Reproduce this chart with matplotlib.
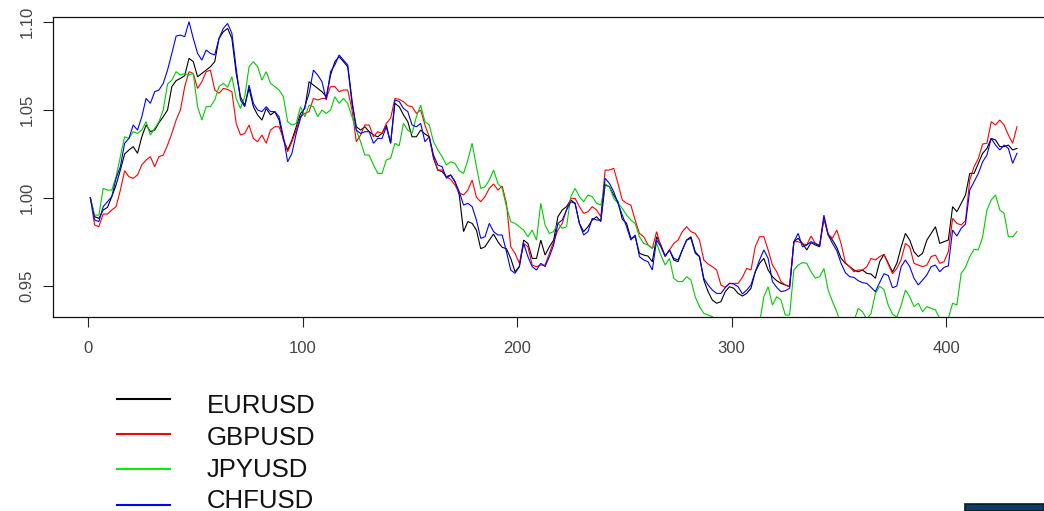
import matplotlib
matplotlib.use("Agg")
import matplotlib.pyplot as plt
from matplotlib.lines import Line2D
from matplotlib.patches import Rectangle

# trading-day index: odd days 1, 5, 9, ... and 3, 7, 11, ...
day_a = list(range(1, 434, 4))
day_b = list(range(3, 432, 4))

eurusd_a = [
    1.0002, 0.9884, 0.9947, 1.0074, 1.0250, 1.0292, 1.0348, 1.0377, 1.0428, 1.0500,
    1.0667, 1.0695, 1.0775, 1.0708, 1.0746, 1.0907, 1.0964,
    1.0708, 1.0528, 1.0519, 1.0443, 1.0472, 1.0443, 1.0273, 1.0405, 1.0509, 1.0642,
    1.0604, 1.0699, 1.0803, 1.0746, 1.0405, 1.0405, 1.0358, 1.0367, 1.0311,
    1.0519,
    1.0434, 1.0348, 1.0364, 1.0225, 1.0150, 1.0131, 1.0017, 0.9866, 0.9818, 0.9723,
    0.9795, 0.9720, 0.9657, 0.9610, 0.9742, 0.9657, 0.9676, 0.9761,
    0.9932,
    0.9989, 0.9856, 0.9837, 0.9894, 1.0074, 1.0017, 0.9879, 0.9771, 0.9686, 0.9670,
    0.9780, 0.9670, 0.9648, 0.9705, 0.9780, 0.9667, 0.9468, 0.9402, 0.9468,
    0.9487,
    0.9443, 0.9487, 0.9629, 0.9591, 0.9530, 0.9506, 0.9752, 0.9742, 0.9746, 0.9723,
    0.9790, 0.9720, 0.9629, 0.9591, 0.9591, 0.9568,
    0.9638,
    0.9629, 0.9629, 0.9799, 0.9695, 0.9686, 0.9799, 0.9742, 0.9761, 0.9922, 1.0017,
    1.0140, 1.0254, 1.0339, 1.0292, 1.0301, 1.0282,
]
eurusd_b = [
    0.9894, 0.9932, 1.0008, 1.0159, 1.0273, 1.0254, 1.0415, 1.0386, 1.0462, 1.0633,
    1.0680, 1.0794, 1.0689, 1.0727, 1.0775, 1.0945,
    1.0907, 1.0576, 1.0623, 1.0472, 1.0509, 1.0491, 1.0330, 1.0330, 1.0481, 1.0661,
    1.0623, 1.0576, 1.0775, 1.0775, 1.0538, 1.0386, 1.0377, 1.0348, 1.0415, 1.0538,
    1.0472, 1.0348, 1.0386, 1.0348, 1.0159, 1.0121, 1.0093, 0.9809, 0.9856, 0.9712,
    0.9761, 0.9752, 0.9712, 0.9581, 0.9761, 0.9657, 0.9761, 0.9723, 0.9894,
    0.9951, 0.9970, 0.9809, 0.9875, 0.9866, 1.0064, 0.9979, 0.9856, 0.9780, 0.9676,
    0.9638, 0.9733, 0.9705, 0.9638, 0.9761, 0.9695, 0.9534, 0.9420, 0.9411, 0.9496,
    0.9458, 0.9458, 0.9581, 0.9657, 0.9553, 0.9515, 0.9496, 0.9771, 0.9705, 0.9733,
    0.9884, 0.9761, 0.9657, 0.9610, 0.9581, 0.9572, 0.9544, 0.9680, 0.9580, 0.9720,
    0.9761, 0.9667, 0.9761, 0.9837, 0.9752, 0.9951, 0.9970, 1.0140, 1.0197, 1.0282,
    1.0330, 1.0292, 1.0273,
]

gbpusd_a = [
    1.0002, 0.9837, 0.9909, 0.9951, 1.0155, 1.0112, 1.0188, 1.0235, 1.0235, 1.0301,
    1.0443, 1.0633, 1.0708, 1.0661, 1.0727, 1.0595, 1.0617,
    1.0424, 1.0367, 1.0339, 1.0358, 1.0386, 1.0405, 1.0263, 1.0386, 1.0481, 1.0566,
    1.0566, 1.0633, 1.0604, 1.0614, 1.0320, 1.0415, 1.0348, 1.0367, 1.0453,
    1.0561,
    1.0525, 1.0481, 1.0415, 1.0235, 1.0159, 1.0106, 1.0030, 1.0045, 1.0004, 1.0008,
    1.0080, 1.0068, 0.9723, 0.9629, 0.9723, 0.9610, 0.9619, 0.9752,
    0.9856,
    0.9998, 0.9951, 0.9922, 0.9932, 1.0159, 1.0169, 0.9989, 0.9960, 0.9799, 0.9733,
    0.9809, 0.9667, 0.9742, 0.9809, 0.9809, 0.9761, 0.9625, 0.9591, 0.9492,
    0.9515,
    0.9549, 0.9591, 0.9780, 0.9705, 0.9581, 0.9506, 0.9752, 0.9742, 0.9784, 0.9733,
    0.9795, 0.9818, 0.9633, 0.9581, 0.9591, 0.9657,
    0.9667,
    0.9624, 0.9600, 0.9742, 0.9629, 0.9610, 0.9667, 0.9629, 0.9695, 0.9856, 0.9871,
    1.0178, 1.0307, 1.0434, 1.0443, 1.0358, 1.0405,
]
gbpusd_b = [
    0.9847, 0.9909, 0.9932, 1.0045, 1.0121, 1.0131, 1.0216, 1.0178, 1.0244, 1.0367,
    1.0500, 1.0718, 1.0623, 1.0718, 1.0614, 1.0623,
    1.0604, 1.0358, 1.0415, 1.0320, 1.0311, 1.0405, 1.0339, 1.0320, 1.0462, 1.0491,
    1.0557, 1.0566, 1.0633, 1.0614, 1.0500, 1.0358, 1.0415, 1.0377, 1.0424, 1.0566,
    1.0547, 1.0519, 1.0500, 1.0348, 1.0159, 1.0121, 1.0074, 1.0017, 1.0102, 0.9979,
    1.0055, 1.0045, 0.9970, 0.9686, 0.9742, 0.9619, 0.9619, 0.9686, 0.9818,
    0.9932, 0.9998, 0.9913, 0.9951, 0.9894, 1.0159, 1.0083, 0.9970, 0.9875, 0.9780,
    0.9714, 0.9723, 0.9705, 0.9761, 0.9837, 0.9799, 0.9648, 0.9610, 0.9506, 0.9515,
    0.9515, 0.9600, 0.9723, 0.9780, 0.9619, 0.9525, 0.9496, 0.9752, 0.9733, 0.9742,
    0.9884, 0.9771, 0.9742, 0.9610, 0.9591, 0.9610, 0.9648, 0.9680, 0.9570, 0.9650,
    0.9723, 0.9619, 0.9619, 0.9676, 0.9638, 0.9884, 0.9847, 1.0102, 1.0225, 1.0311,
    1.0415, 1.0415, 1.0311,
]

jpyusd_a = [
    1.0002, 0.9903, 1.0045, 1.0121, 1.0348, 1.0377, 1.0386, 1.0358, 1.0434, 1.0648,
    1.0718, 1.0708, 1.0708, 1.0443, 1.0519, 1.0633, 1.0629,
    1.0566, 1.0576, 1.0775, 1.0670, 1.0652, 1.0614, 1.0434, 1.0424, 1.0462, 1.0519,
    1.0500, 1.0500, 1.0538, 1.0538, 1.0386, 1.0244, 1.0188, 1.0140, 1.0225,
    1.0297,
    1.0386, 1.0462, 1.0434, 1.0320, 1.0235, 1.0206, 1.0155, 1.0216, 1.0178, 1.0064,
    1.0159, 1.0055, 0.9866, 0.9837, 0.9780, 0.9761, 0.9847, 0.9809,
    0.9828,
    1.0008, 1.0008, 1.0017, 0.9970, 1.0080, 0.9998, 0.9941, 0.9875, 0.9780, 0.9733,
    0.9742, 0.9619, 0.9544, 0.9525, 0.9534, 0.9383, 0.9335, 0.9280, 0.9250,
    0.9220,
    0.9230, 0.9250, 0.9290, 0.9496, 0.9439, 0.9335, 0.9591, 0.9633, 0.9581, 0.9553,
    0.9477, 0.9354, 0.9260, 0.9300, 0.9354, 0.9345,
    0.9498,
    0.9390, 0.9323, 0.9477, 0.9383, 0.9354, 0.9373, 0.9316, 0.9316, 0.9392, 0.9606,
    0.9708, 0.9780, 0.9989, 0.9932, 0.9780, 0.9809,
]
jpyusd_b = [
    0.9903, 1.0055, 1.0045, 1.0235, 1.0339, 1.0367, 1.0434, 1.0396, 1.0500, 1.0670,
    1.0699, 1.0699, 1.0519, 1.0519, 1.0557, 1.0652,
    1.0689, 1.0509, 1.0746, 1.0746, 1.0718, 1.0633, 1.0576, 1.0415, 1.0519, 1.0528,
    1.0462, 1.0481, 1.0576, 1.0566, 1.0462, 1.0320, 1.0244, 1.0140, 1.0216, 1.0311,
    1.0424, 1.0367, 1.0528, 1.0415, 1.0273, 1.0188, 1.0197, 1.0140, 1.0311, 1.0055,
    1.0102, 1.0083, 0.9951, 0.9856, 0.9818, 0.9818, 0.9970, 0.9799, 0.9856,
    0.9837, 1.0055, 0.9979, 1.0008, 0.9960, 1.0064, 0.9970, 0.9903, 0.9856, 0.9742,
    0.9714, 0.9676, 0.9657, 0.9525, 0.9553, 0.9439, 0.9345, 0.9326, 0.9300, 0.9240,
    0.9240, 0.9230, 0.9260, 0.9439, 0.9392, 0.9420, 0.9335, 0.9619, 0.9629, 0.9544,
    0.9600, 0.9411, 0.9280, 0.9250, 0.9373, 0.9310, 0.9458, 0.9480, 0.9340, 0.9390,
    0.9439, 0.9402, 0.9383, 0.9364, 0.9297, 0.9402, 0.9572, 0.9667, 0.9705, 0.9932,
    1.0017, 0.9913, 0.9780,
]

chfusd_a = [
    1.0002, 0.9866, 0.9979, 1.0112, 1.0311, 1.0415, 1.0462, 1.0538, 1.0614, 1.0727,
    1.0920, 1.0917, 1.0907, 1.0784, 1.0822, 1.0907, 1.0992,
    1.0737, 1.0519, 1.0538, 1.0491, 1.0491, 1.0462, 1.0206, 1.0367, 1.0519, 1.0727,
    1.0661, 1.0718, 1.0813, 1.0756, 1.0386, 1.0377, 1.0311, 1.0339, 1.0311,
    1.0549,
    1.0491, 1.0405, 1.0320, 1.0244, 1.0178, 1.0131, 1.0036, 0.9970, 0.9875, 0.9780,
    0.9809, 0.9790, 0.9591, 0.9610, 0.9667, 0.9591, 0.9610, 0.9733,
    0.9875,
    0.9979, 0.9856, 0.9809, 0.9875, 1.0112, 1.0036, 0.9903, 0.9761, 0.9667, 0.9638,
    0.9761, 0.9670, 0.9657, 0.9705, 0.9771, 0.9667, 0.9506, 0.9458, 0.9491,
    0.9511,
    0.9455, 0.9506, 0.9648, 0.9657, 0.9492, 0.9473, 0.9752, 0.9723, 0.9752, 0.9727,
    0.9790, 0.9701, 0.9576, 0.9549, 0.9519, 0.9492,
    0.9520,
    0.9560, 0.9500, 0.9648, 0.9544, 0.9534, 0.9610, 0.9581, 0.9614, 0.9784, 0.9852,
    1.0093, 1.0206, 1.0339, 1.0273, 1.0282, 1.0254,
]
chfusd_b = [
    0.9875, 0.9951, 1.0008, 1.0178, 1.0339, 1.0386, 1.0566, 1.0604, 1.0652, 1.0822,
    1.0926, 1.1002, 1.0822, 1.0841, 1.0813, 1.0964,
    1.0936, 1.0557, 1.0642, 1.0500, 1.0519, 1.0491, 1.0348, 1.0254, 1.0453, 1.0595,
    1.0699, 1.0557, 1.0756, 1.0784, 1.0557, 1.0367, 1.0377, 1.0339, 1.0405, 1.0557,
    1.0509, 1.0415, 1.0424, 1.0348, 1.0188, 1.0112, 1.0093, 0.9960, 0.9951, 0.9771,
    0.9856, 0.9790, 0.9695, 0.9572, 0.9742, 0.9610, 0.9629, 0.9667, 0.9856,
    0.9932, 0.9970, 0.9790, 0.9884, 0.9875, 1.0083, 0.9970, 0.9837, 0.9790, 0.9648,
    0.9591, 0.9723, 0.9705, 0.9648, 0.9761, 0.9686, 0.9544, 0.9477, 0.9458, 0.9515,
    0.9496, 0.9477, 0.9581, 0.9705, 0.9525, 0.9468, 0.9487, 0.9799, 0.9733, 0.9742,
    0.9903, 0.9742, 0.9629, 0.9553, 0.9530, 0.9515, 0.9468, 0.9570, 0.9490, 0.9610,
    0.9610, 0.9506, 0.9563, 0.9619, 0.9606, 0.9818, 0.9828, 1.0045, 1.0140, 1.0244,
    1.0301, 1.0301, 1.0197,
]

series_names = ["EURUSD", "GBPUSD", "JPYUSD", "CHFUSD"]
series_parts = [(eurusd_a, eurusd_b), (gbpusd_a, gbpusd_b),
                (jpyusd_a, jpyusd_b), (chfusd_a, chfusd_b)]
series_colors = ["#000000", "#ff0000", "#00cc00", "#0000ff"]
legend_colors = ["#000000", "#ff0000", "#00ee00", "#0000ff"]

x_ticks = [0, 100, 200, 300, 400]
y_ticks = [0.95, 1.00, 1.05, 1.10]
y_tick_labels = ["0.95", "1.00", "1.05", "1.10"]


def merge(va, vb):
    pts = sorted(list(zip(day_a, va)) + list(zip(day_b, vb)))
    return [p[0] for p in pts], [p[1] for p in pts]


W, H = 1044, 511
plt.rcParams["font.family"] = ["Liberation Sans", "DejaVu Sans"]

fig = plt.figure(figsize=(W / 100, H / 100), dpi=100)
fig.patch.set_facecolor("white")

# plot region (the right edge of the frame runs just past the canvas)
ax = fig.add_axes([53 / W, (H - 316.7) / H, 1006 / W, 299.4 / H])
for (va, vb), col in zip(series_parts, series_colors):
    xs, ys = merge(va, vb)
    ax.plot(xs, ys, color=col, lw=0.8, solid_joinstyle="miter")

ax.set_xlim(-16.4, 452.6)
ax.set_ylim(0.93256, 1.1027)
ax.set_xticks(x_ticks)
ax.set_xticklabels([str(t) for t in x_ticks])
ax.set_yticks(y_ticks)
ax.set_yticklabels(y_tick_labels, rotation=90, va="center")
ax.tick_params(axis="both", direction="out", length=7.2, width=0.8,
               labelsize=12, labelcolor="#444444", color="#222222")
ax.tick_params(axis="x", pad=10)
ax.tick_params(axis="y", pad=6)
for side in ["left", "top", "bottom", "right"]:
    ax.spines[side].set_linewidth(0.9)
    ax.spines[side].set_color("#111111")

# legend below the plot
line_y = [399, 434, 469, 505]
text_base = [413, 445, 477, 508]
for name, col, ly, ty in zip(series_names, legend_colors, line_y, text_base):
    fig.add_artist(Line2D([117 / W, 170 / W], [1 - ly / H, 1 - ly / H],
                          color=col, lw=1.5, transform=fig.transFigure))
    fig.text(207 / W, 1 - ty / H, name, fontsize=18.5, color="#111111",
             va="baseline", ha="left")

# small dark tab at the lower right corner
fig.add_artist(Rectangle((965 / W, 0), (W - 965) / W, 7 / H, transform=fig.transFigure,
                         facecolor="#0c3d66", edgecolor="#0a1c26", lw=1.2))

fig.savefig("out.png", dpi=100)
